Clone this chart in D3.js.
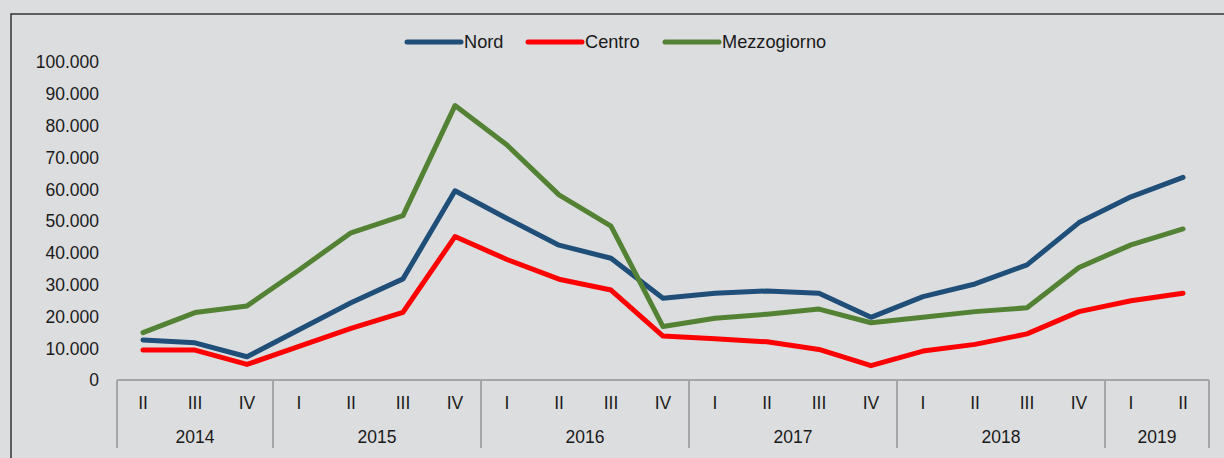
<!DOCTYPE html>
<html>
<head>
<meta charset="utf-8">
<script src="https://cdn.jsdelivr.net/npm/d3@7"></script>
<style>
  html, body { margin: 0; padding: 0; background: #dcdddf; }
  svg { display: block; }
  text { font-family: "Liberation Sans", Arial, sans-serif; fill: #1a1a1a; }
</style>
</head>
<body>
<svg id="chart" width="1224" height="458"></svg>
<script>
const quarters = ["II","III","IV","I","II","III","IV","I","II","III","IV","I","II","III","IV","I","II","III","IV","I","II"];
const years = ["2014","2015","2016","2017","2018","2019"];
const yearCounts = [3,4,4,4,4,2];
const nord = [12600,11700,7300,15800,24300,31800,59500,50800,42400,38300,25700,27300,28000,27300,19700,26200,30200,36200,49500,57600,63700];
const centro = [9400,9400,4900,10600,16200,21300,45100,37900,31700,28300,13800,13000,12000,9600,4500,9100,11200,14500,21500,24900,27300];
const mezzogiorno = [14900,21200,23300,34600,46300,51700,86300,73900,58200,48400,16800,19400,20700,22300,18000,19700,21500,22700,35400,42500,47500];
const seriesNames = ["Nord","Centro","Mezzogiorno"];
const seriesColors = ["#1f4e79","#ff0000","#548235"];
const yTicks = [0,10000,20000,30000,40000,50000,60000,70000,80000,90000,100000];

const svg = d3.select("#chart");
const W = 1224, H = 458;
const fs = 17.5;

svg.append("rect").attr("x",0).attr("y",0).attr("width",W).attr("height",H).attr("fill","#dcdddf");
svg.append("rect").attr("x",11).attr("y",14).attr("width",W+20).attr("height",H+20)
  .attr("fill","none").attr("stroke","#3f3f3f").attr("stroke-width",1.6);

const x = d3.scaleBand().domain(d3.range(quarters.length)).range([117,1209]).padding(0);
const y = d3.scaleLinear().domain([0,100000]).range([380,62]);
const cx = i => x(i) + x.bandwidth()/2;

const loc = d3.formatLocale({decimal:",", thousands:".", grouping:[3], currency:["€",""]});
const fmt = loc.format(",d");

// y tick labels
svg.append("g").selectAll("text").data(yTicks).join("text")
  .attr("x",99).attr("y",d=>y(d)).attr("dy","0.36em")
  .attr("text-anchor","end").attr("font-size",fs).text(d=>fmt(d));

// x axis
const axisColor = "#a6a6a6";
svg.append("line").attr("x1",x.range()[0]).attr("x2",x.range()[1]).attr("y1",380).attr("y2",380)
  .attr("stroke",axisColor).attr("stroke-width",2);

// group boundaries
const starts = [0];
yearCounts.forEach((c,i)=>starts.push(starts[i]+c));
const bounds = starts.map(s => s < quarters.length ? x(s) : x.range()[1]);
svg.append("g").selectAll("line").data(bounds).join("line")
  .attr("x1",d=>d).attr("x2",d=>d).attr("y1",380).attr("y2",448)
  .attr("stroke",axisColor).attr("stroke-width",2);

// quarter labels
svg.append("g").selectAll("text").data(quarters).join("text")
  .attr("x",(d,i)=>cx(i)).attr("y",409).attr("text-anchor","middle").attr("font-size",fs).text(d=>d);

// year labels
svg.append("g").selectAll("text").data(years).join("text")
  .attr("x",(d,i)=>(bounds[i]+bounds[i+1])/2).attr("y",443).attr("text-anchor","middle")
  .attr("font-size",fs).text(d=>d);

// lines
const line = d3.line().x((d,i)=>cx(i)).y(d=>y(d));
[nord,centro,mezzogiorno].forEach((s,k)=>{
  svg.append("path").datum(s).attr("d",line).attr("fill","none")
    .attr("stroke",seriesColors[k]).attr("stroke-width",5)
    .attr("stroke-linejoin","round").attr("stroke-linecap","round");
});

// legend
const legX = [407,528,665];
const lg = svg.append("g");
seriesNames.forEach((n,k)=>{
  lg.append("line").attr("x1",legX[k]).attr("x2",legX[k]+54).attr("y1",42).attr("y2",42)
    .attr("stroke",seriesColors[k]).attr("stroke-width",5).attr("stroke-linecap","round");
  lg.append("text").attr("x",legX[k]+57).attr("y",48.3).attr("font-size",18.2).text(n);
});
</script>
</body>
</html>
